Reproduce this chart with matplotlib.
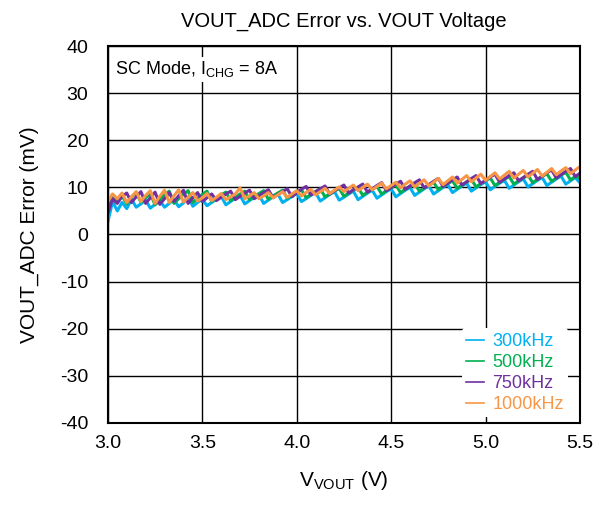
import matplotlib
matplotlib.use('Agg')
import matplotlib.pyplot as plt
import numpy as np

plt.rcParams['font.family'] = ['Liberation Sans', 'DejaVu Sans']
plt.rcParams['mathtext.default'] = 'regular'
plt.rcParams['axes.unicode_minus'] = False

# VOUT sweep grid (V), 25 mV steps
vout = np.round(np.arange(3.0, 5.5001, 0.025), 3)

err_300k = [2.7, 7.0, 5.0, 6.8, 5.5, 7.5, 5.8, 6.5, 7.3, 5.6,
            6.4, 7.2, 5.8, 6.6, 7.4, 5.9, 6.7, 8.0, 6.0, 6.8,
            7.5, 6.1, 6.8, 7.5, 8.1, 6.3, 7.0, 7.7, 8.3, 6.5,
            7.2, 7.9, 8.4, 6.6, 7.3, 8.0, 8.6, 6.8, 7.4, 8.1,
            8.7, 7.0, 7.6, 8.3, 8.9, 7.1, 7.8, 8.5, 9.1, 7.3,
            7.9, 8.6, 9.2, 7.4, 8.1, 8.8, 9.4, 7.7, 8.4, 9.1,
            9.7, 8.0, 8.7, 9.4, 10.0, 8.3, 9.0, 9.7, 10.3, 8.6,
            9.3, 10.0, 10.6, 8.9, 9.6, 10.3, 10.9, 9.2, 9.9, 10.6,
            11.2, 9.5, 10.2, 10.9, 11.5, 9.8, 10.5, 11.2, 11.8, 10.1,
            10.8, 11.5, 12.1, 10.4, 11.1, 11.8, 12.4, 10.7, 11.4, 12.1,
            11.0]

err_500k = [6.0, 8.5, 7.0, 8.2, 6.5, 8.0, 8.8, 6.9, 7.8, 8.6,
            6.3, 7.4, 8.4, 9.2, 6.6, 7.6, 8.5, 9.3, 6.8, 7.7,
            8.5, 9.2, 7.0, 7.7, 8.4, 9.0, 7.2, 7.9, 8.6, 9.2,
            7.4, 8.1, 8.7, 9.3, 7.5, 8.2, 8.8, 9.4, 7.7, 8.3,
            8.9, 9.5, 7.8, 8.5, 9.1, 9.7, 8.0, 8.6, 9.2, 9.8,
            8.1, 8.8, 9.4, 10.0, 8.3, 9.0, 9.6, 10.2, 8.6, 9.3,
            9.9, 10.5, 8.9, 9.6, 10.2, 10.8, 9.2, 9.9, 10.5, 11.1,
            9.5, 10.2, 10.8, 11.4, 9.8, 10.5, 11.1, 11.7, 10.1, 10.8,
            11.4, 12.0, 10.4, 11.1, 11.7, 12.3, 10.7, 11.4, 12.0, 12.6,
            11.0, 11.7, 12.3, 12.9, 11.3, 12.0, 12.6, 13.2, 11.6, 12.3,
            12.0]

err_750k = [4.5, 7.6, 6.6, 8.1, 8.8, 6.8, 8.0, 9.1, 6.6, 7.8,
            9.0, 6.4, 7.6, 8.9, 7.0, 8.2, 9.4, 6.6, 7.8, 8.9,
            7.0, 7.8, 8.6, 7.2, 7.9, 8.6, 9.2, 7.4, 8.1, 8.8,
            9.4, 7.6, 8.2, 8.9, 9.5, 7.8, 8.5, 9.1, 9.7, 8.0,
            8.9, 9.6, 10.2, 8.4, 9.1, 9.7, 10.3, 8.6, 9.3, 9.9,
            10.5, 8.8, 9.5, 10.1, 10.7, 9.0, 9.7, 10.4, 11.0, 9.3,
            10.0, 10.7, 11.3, 9.6, 10.3, 11.0, 11.6, 9.9, 10.6, 11.3,
            11.9, 10.2, 10.9, 11.6, 12.2, 10.5, 11.2, 11.9, 12.5, 10.8,
            11.5, 12.2, 12.8, 11.1, 11.8, 12.5, 13.1, 11.4, 12.1, 12.8,
            13.4, 11.7, 12.4, 13.1, 13.7, 12.0, 12.7, 13.4, 14.0, 12.3,
            13.0]

err_1000k = [7.0, 8.6, 7.6, 8.8, 6.8, 8.0, 9.1, 7.0, 8.3, 9.3,
             6.6, 8.1, 9.4, 6.8, 8.2, 9.5, 6.9, 7.9, 8.9, 7.1,
             7.8, 8.7, 7.2, 7.9, 8.7, 7.4, 8.0, 8.6, 9.9, 7.6,
             8.2, 8.9, 7.6, 8.2, 8.9, 7.8, 8.4, 9.1, 7.9, 8.6,
             9.3, 8.2, 8.9, 9.6, 8.4, 9.1, 9.8, 8.7, 9.4, 10.1,
             9.1, 9.8, 10.5, 9.3, 10.0, 10.7, 9.5, 10.2, 10.9, 9.7,
             10.4, 11.1, 9.9, 10.7, 11.4, 10.1, 10.9, 11.6, 10.3, 11.1,
             11.9, 10.6, 11.4, 12.2, 10.9, 11.7, 12.5, 11.2, 12.0, 12.8,
             11.5, 12.3, 13.1, 11.8, 12.6, 13.4, 12.0, 12.8, 13.6, 12.2,
             13.0, 13.8, 12.4, 13.2, 14.0, 12.7, 13.5, 14.2, 12.9, 13.7,
             14.4]

labels = ['300kHz', '500kHz', '750kHz', '1000kHz']
colors = ['#00B0F0', '#00B050', '#7030A0', '#F79646']

fig = plt.figure(figsize=(6.06, 5.07), dpi=100)
ax = fig.add_axes([0.178, 0.166, 0.779, 0.743])

for y, lab, c in zip([err_300k, err_500k, err_750k, err_1000k], labels, colors):
    ax.plot(vout, y, color=c, lw=2.2, label=lab)

ax.set_xlim(3.0, 5.5)
ax.set_ylim(-40, 40)
ax.set_xticks(np.arange(3.0, 5.51, 0.5))
ax.set_yticks(np.arange(-40, 41, 10))
ax.xaxis.set_major_formatter(matplotlib.ticker.FormatStrFormatter('%.1f'))
ax.grid(True, color='black', lw=1.0)
ax.set_axisbelow(True)
ax.tick_params(length=0, labelsize=14)
ax.tick_params(axis='x', pad=9)
ax.tick_params(axis='y', pad=14)
for s in ax.spines.values():
    s.set_linewidth(1.5)
    s.set_color('black')

ax.set_title('VOUT_ADC Error vs. VOUT Voltage', fontsize=14.5, pad=14)
ax.set_xlabel('$V_{VOUT}$ (V)', fontsize=15, labelpad=12)
ax.set_ylabel('VOUT_ADC Error (mV)', fontsize=15, labelpad=15)

ax.text(0.015, 0.965, 'SC Mode, $I_{CHG}$ = 8A', transform=ax.transAxes,
        fontsize=13, va='top', ha='left',
        bbox=dict(facecolor='white', edgecolor='none', pad=2))

leg = ax.legend(loc='lower right', bbox_to_anchor=(0.987, 0.0), fontsize=13,
                frameon=True, handlelength=1.0, handletextpad=0.45,
                labelspacing=0.22, borderaxespad=0.3, borderpad=0.25)
leg.get_frame().set_edgecolor('none')
leg.get_frame().set_facecolor('white')
leg.get_frame().set_alpha(1)
for line in leg.get_lines():
    line.set_linewidth(1.2)
for t, c in zip(leg.get_texts(), colors):
    t.set_color(c)

fig.savefig('out.png', dpi=100)
